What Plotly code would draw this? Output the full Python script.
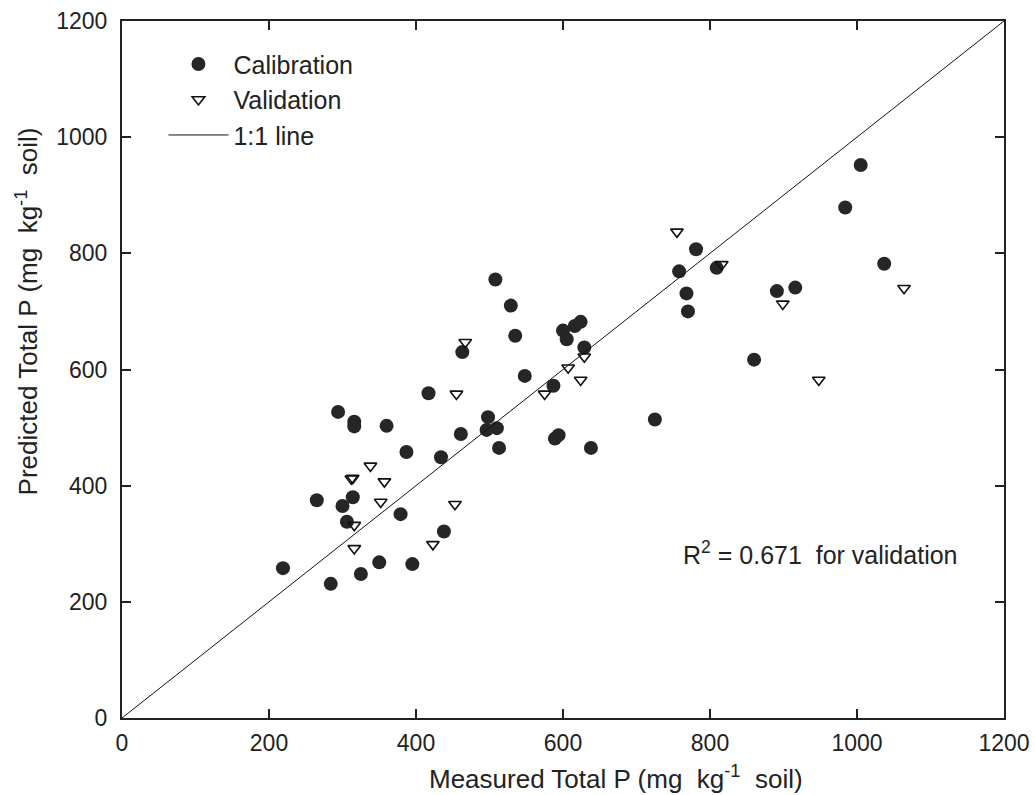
import plotly.graph_objects as go

# Calibration set (measured, predicted)
cal_measured = [219, 265, 284, 294, 300, 306, 314, 316, 316, 325, 350, 360, 379, 387, 395,
                417, 434, 438, 461, 463, 498, 496, 508, 510, 513, 529, 535, 548, 587, 589,
                594, 600, 605, 616, 624, 629, 638, 725, 758, 768, 770, 781, 809, 860, 891,
                916, 984, 1005, 1037]
cal_predicted = [258, 375, 231, 527, 365, 338, 380, 510, 502, 248, 268, 503, 351, 458, 265,
                 559, 449, 321, 489, 630, 518, 496, 755, 499, 465, 710, 658, 589, 572, 481,
                 487, 667, 652, 675, 682, 638, 465, 514, 769, 731, 700, 807, 775, 617, 735,
                 741, 879, 952, 782]

# Validation set (measured, predicted)
val_measured = [312, 314, 316, 316, 338, 352, 357, 423, 453, 455, 467, 575, 607, 624, 629,
                755, 816, 899, 948, 1064]
val_predicted = [412, 413, 332, 292, 434, 372, 407, 299, 368, 558, 647, 558, 603, 582, 622,
                 837, 781, 713, 582, 740]

one_to_one = [0, 1200]
tick_vals = [0, 200, 400, 600, 800, 1000, 1200]

FONT = "Liberation Sans, Arial, sans-serif"
TXT = "#222222"

fig = go.Figure()
fig.add_trace(go.Scatter(
    x=cal_measured, y=cal_predicted, mode="markers", name="Calibration",
    marker=dict(symbol="circle", size=14, color="#262626", line=dict(width=0)),
))
fig.add_trace(go.Scatter(
    x=val_measured, y=val_predicted, mode="markers", name="Validation",
    marker=dict(symbol="triangle-down-open", size=11, color="#111111", line=dict(width=1.6)),
))
fig.add_trace(go.Scatter(
    x=one_to_one, y=one_to_one, mode="lines", name="1:1 line",
    line=dict(color="#111111", width=1),
))

axis_common = dict(
    range=[0, 1200], tickvals=tick_vals, showgrid=False, zeroline=False,
    showline=True, linecolor="#222222", linewidth=2, mirror="ticks",
    ticks="inside", ticklen=9, tickwidth=1.5, tickcolor="#222222",
    tickfont=dict(family=FONT, size=23, color=TXT), automargin=False,
)

fig.update_layout(
    width=1035, height=795,
    margin=dict(l=122, r=31, t=21, b=77, autoexpand=False),
    paper_bgcolor="white", plot_bgcolor="white",
    font=dict(family=FONT, size=23, color=TXT),
    xaxis=dict(**axis_common, ticklabelstandoff=3),
    yaxis=dict(**axis_common, ticklabelstandoff=8),
    showlegend=True,
    legend=dict(
        x=0.047, y=0.971, xanchor="left", yanchor="top",
        bgcolor="rgba(0,0,0,0)", borderwidth=0,
        font=dict(family=FONT, size=25, color=TXT),
        itemwidth=60, tracegroupgap=0,
    ),
    annotations=[
        dict(text="Measured Total P (mg  kg<sup>-1</sup>  soil)", xref="x", x=672,
             xanchor="center", yref="paper", y=0, yanchor="middle", yshift=-59,
             showarrow=False, font=dict(family=FONT, size=26, color=TXT)),
        dict(text="Predicted Total P (mg  kg<sup>-1</sup>  soil)", xref="paper", x=0,
             xanchor="center", xshift=-95, yref="y", y=700, yanchor="middle",
             textangle=-90, showarrow=False,
             font=dict(family=FONT, size=26, color=TXT)),
        dict(text="R<sup>2</sup> = 0.671  for validation", xref="x", x=761,
             yref="y", y=284, xanchor="left", yanchor="middle", showarrow=False,
             font=dict(family=FONT, size=25, color=TXT)),
    ],
)

fig.write_html("out.html")
